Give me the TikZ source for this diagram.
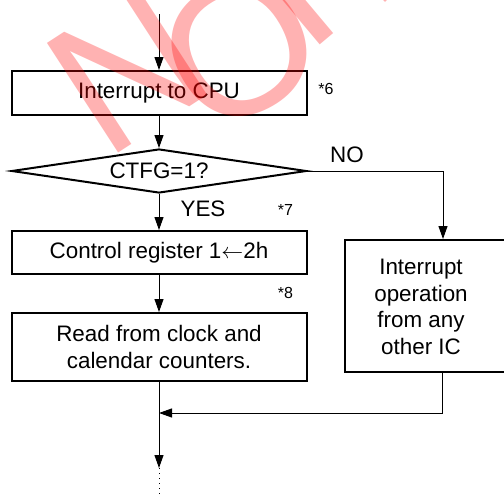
\documentclass[tikz,border=0pt]{standalone}
\usepackage{fontspec}
\setmainfont{Liberation Sans}
\usetikzlibrary{arrows.meta,shapes.geometric,calc}
\tikzset{
  box/.style={draw, line width=1pt, inner sep=0pt, align=center,
    font=\fontsize{11.2}{13.4}\selectfont},
  conn/.style={line width=0.5pt},
  arr/.style={conn, -{Triangle[length=6.5pt,width=4.5pt]}},
  lbl/.style={inner sep=0pt, font=\fontsize{11.2}{13.4}\selectfont},
  note/.style={inner sep=0pt, font=\fontsize{8}{9}\selectfont},
  wmark/.style={inner sep=0pt, text=red, text opacity=0.3,
    font=\fontsize{95}{95}\selectfont}
}
\begin{document}
\begin{tikzpicture}[x=0.5pt,y=-0.5pt]
\useasboundingbox (0,0) rectangle (504,498);
\fill[white] (0,0) rectangle (504,498);
\begin{scope}
\clip (0,0) rectangle (504,498);
\coordinate (start) at (159,14);
\node[box, minimum width=147.5pt, minimum height=22pt] (b1) at (159,93) {Interrupt to CPU};
\node[box, shape=diamond, aspect=6.7, minimum width=147.5pt, minimum height=22pt] (d) at (159,171) {CTFG=1?};
\node[box, minimum width=147.5pt, minimum height=21.5pt] (b2) at (159,252.5) {Control register 1$\leftarrow$2h};
\node[box, minimum width=147.5pt, minimum height=34pt] (b3) at (159,347) {Read from clock and\\calendar counters.};
\node[box, minimum width=87.5pt, minimum height=66pt] (b4) at (432.5,306) {};
\node[lbl, align=center] (b4t) at (421,307) {Interrupt\\operation\\from any\\other IC};
\node[lbl] (no) at (347,155) {NO};
\node[lbl] (yes) at (203,209) {YES};
\node[note] (n6) at (326,89) {*6};
\node[note] (n7) at (285.5,210) {*7};
\node[note] (n8) at (285.5,293) {*8};
\coordinate (join) at (159,413);
\coordinate (endarr) at (159,468);
\coordinate (endd) at (159,494);
\draw[arr] (start) -- (b1);
\draw[arr] (b1) -- (d);
\draw[arr] (d) -- (b2);
\draw[arr] (b2) -- (b3);
\draw[arr] (d.east) -| ($(b4.north)+(10.5,0)$);
\draw[arr] ($(b4.south)+(9.5,0)$) |- (join);
\draw[arr] (b3.south) -- (endarr);
\draw[conn, dotted] (endarr) -- (endd);
% watermark
\node[wmark, rotate=33] (wmN) at (127,69) {N};
\node[wmark, rotate=30] (wmO) at (240,48) {O};
\node[wmark, rotate=40, anchor=south] (wmT) at (327,40) {T};
\node[wmark, rotate=45, anchor=base west] (wmR) at (374,14) {R};
\end{scope}
\end{tikzpicture}
\end{document}
